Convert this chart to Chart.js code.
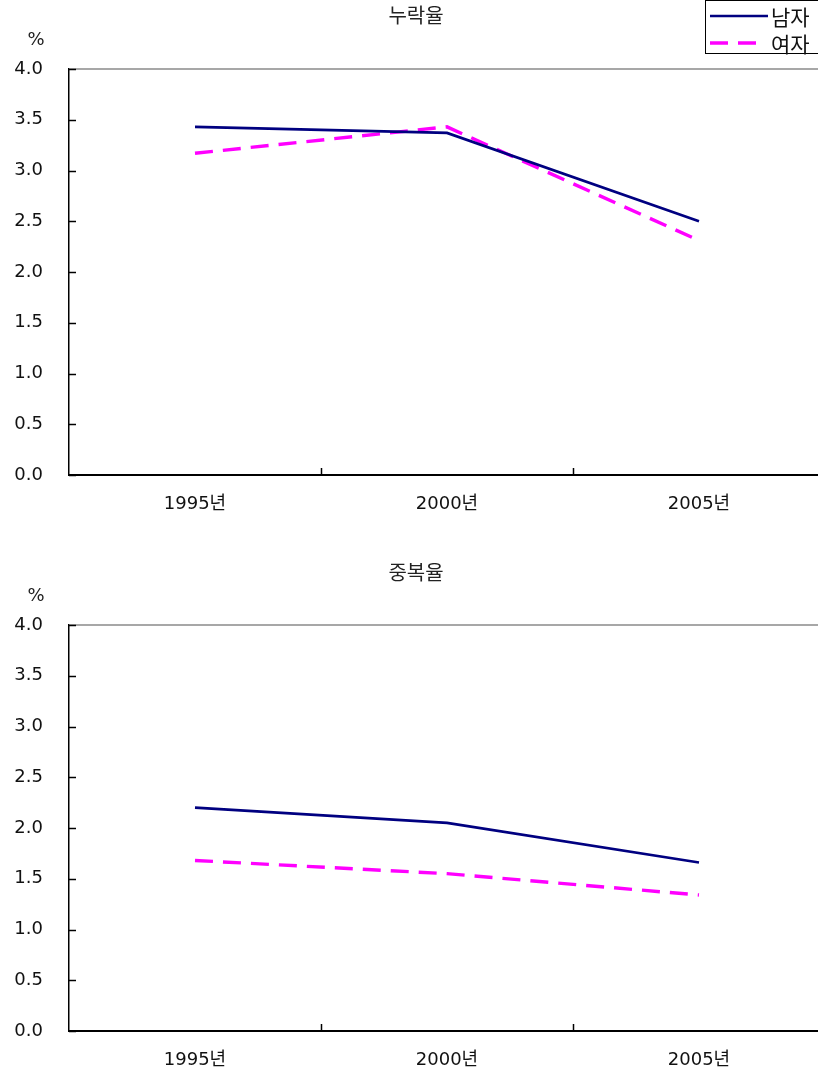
<!DOCTYPE html>
<html>
<head>
<meta charset="utf-8">
<script src="https://cdn.jsdelivr.net/npm/chart.js@4/dist/chart.umd.min.js"></script>
<style>
  html, body { margin: 0; padding: 0; background: #fff; }
  #wrap { width: 818px; height: 1076px; overflow: hidden; position: relative; }
  canvas { display: block; }
</style>
</head>
<body>
<div id="wrap">
  <canvas id="missing" width="840" height="540"></canvas>
  <canvas id="dup" width="840" height="536"></canvas>
</div>
<script>
// Census years and rates (%) by sex
const years = ['1995년', '2000년', '2005년'];
const seriesNames = ['남자', '여자'];
const maleMissing = [3.43, 3.37, 2.50];
const femaleMissing = [3.17, 3.43, 2.31];
const maleDuplicate = [2.20, 2.05, 1.66];
const femaleDuplicate = [1.68, 1.55, 1.34];
const yTickValues = [0, 0.5, 1.0, 1.5, 2.0, 2.5, 3.0, 3.5, 4.0];

const FONT = '"DejaVu Sans", "Noto Sans CJK KR", sans-serif';
const KFONT = '"Noto Sans CJK KR", sans-serif';
const MALE_COLOR = '#000080';
const FEMALE_COLOR = '#ff00ff';
const FEMALE_DASH = [18, 10];

// Inner tick marks, top frame line, titles and the "%" unit label
const framePlugin = {
  id: 'frame',
  beforeDatasetsDraw(chart, args, opts) {
    const { ctx, chartArea } = chart;
    const y = chart.scales.y;
    const yTop = y.getPixelForValue(y.max);
    ctx.save();
    ctx.strokeStyle = '#8a8a8a';
    ctx.lineWidth = 1.5;
    ctx.beginPath();
    ctx.moveTo(chartArea.left, yTop);
    ctx.lineTo(chartArea.right + 20, yTop);
    ctx.stroke();
    ctx.restore();
  },
  afterDraw(chart, args, opts) {
    const { ctx, chartArea } = chart;
    const x = chart.scales.x;
    const y = chart.scales.y;
    ctx.save();
    ctx.strokeStyle = '#000';
    ctx.lineWidth = 1.5;
    // y ticks point into the plot
    y.ticks.forEach(t => {
      const py = Math.round(y.getPixelForValue(t.value)) + 0.5;
      ctx.beginPath();
      ctx.moveTo(chartArea.left, py);
      ctx.lineTo(chartArea.left + 7, py);
      ctx.stroke();
    });
    // x ticks sit on the category boundaries, pointing up
    const n = x.getLabels().length;
    for (let i = 0; i < n; i++) {
      const px = Math.round((x.getPixelForValue(i) + x.getPixelForValue(i + 1)) / 2) + 0.5;
      ctx.beginPath();
      ctx.moveTo(px, chartArea.bottom);
      ctx.lineTo(px, chartArea.bottom - 7);
      ctx.stroke();
    }
    // title and unit
    ctx.fillStyle = '#222';
    ctx.textAlign = 'center';
    ctx.textBaseline = 'middle';
    ctx.font = '20px ' + KFONT;
    ctx.fillText(opts.title, 416, opts.titleY);
    ctx.font = '18px ' + FONT;
    ctx.fillText('%', 36, opts.unitY);
    ctx.restore();
  }
};

// Boxed legend in the upper right corner
const boxLegendPlugin = {
  id: 'boxLegend',
  afterDraw(chart, args, opts) {
    if (!opts.show) return;
    const { ctx } = chart;
    ctx.save();
    ctx.fillStyle = '#fff';
    ctx.strokeStyle = '#000';
    ctx.lineWidth = 1;
    ctx.fillRect(705.5, 0.5, 200, 53);
    ctx.strokeRect(705.5, 0.5, 200, 53);
    const rows = [16, 43];
    chart.data.datasets.forEach((ds, i) => {
      ctx.strokeStyle = ds.borderColor;
      ctx.lineWidth = ds.borderWidth;
      ctx.setLineDash(ds.borderDash || []);
      ctx.beginPath();
      ctx.moveTo(710, rows[i]);
      ctx.lineTo(i === 0 ? 768 : 766, rows[i]);
      ctx.stroke();
      ctx.setLineDash([]);
      ctx.fillStyle = '#111';
      ctx.font = '21px ' + KFONT;
      ctx.textAlign = 'left';
      ctx.textBaseline = 'middle';
      ctx.fillText(ds.label, 771, rows[i] + 1);
    });
    ctx.restore();
  }
};

function makeChart(id, male, female, title, titleY, unitY, topPad, xHeight, bottomPad, showLegend) {
  return new Chart(document.getElementById(id), {
    type: 'line',
    data: {
      labels: years,
      datasets: [
        { label: seriesNames[0], data: male, borderColor: MALE_COLOR, borderWidth: 2.7,
          pointRadius: 0, tension: 0, fill: false },
        { label: seriesNames[1], data: female, borderColor: FEMALE_COLOR, borderWidth: 3.4,
          borderDash: FEMALE_DASH, pointRadius: 0, tension: 0, fill: false }
      ]
    },
    options: {
      responsive: false,
      animation: false,
      events: [],
      layout: { padding: { left: 0, right: 15, top: topPad, bottom: bottomPad } },
      plugins: {
        legend: { display: false },
        tooltip: { enabled: false },
        title: { display: false },
        frame: { title: title, titleY: titleY, unitY: unitY },
        boxLegend: { show: showLegend }
      },
      scales: {
        x: {
          type: 'category',
          offset: true,
          grid: { display: false, offset: true },
          border: { display: true, color: '#000', width: 2 },
          ticks: { color: '#111', font: { family: FONT, size: 18 }, padding: 11, maxRotation: 0 },
          afterFit(s) { s.height = xHeight; }
        },
        y: {
          min: 0,
          max: 4,
          afterBuildTicks(s) { s.ticks = yTickValues.map(v => ({ value: v })); },
          grid: { display: false },
          border: { display: true, color: '#000', width: 1.5 },
          ticks: { color: '#111', font: { family: FONT, size: 18 }, padding: 18,
                   callback: v => Number(v).toFixed(1) },
          afterFit(s) { s.width = 69; }
        }
      }
    },
    plugins: [framePlugin, boxLegendPlugin]
  });
}

makeChart('missing', maleMissing, femaleMissing, '누락율', 15, 40, 69, 50, 15, true);
makeChart('dup', maleDuplicate, femaleDuplicate, '중복율', 32, 56, 85, 45, 0, false);
</script>
</body>
</html>
